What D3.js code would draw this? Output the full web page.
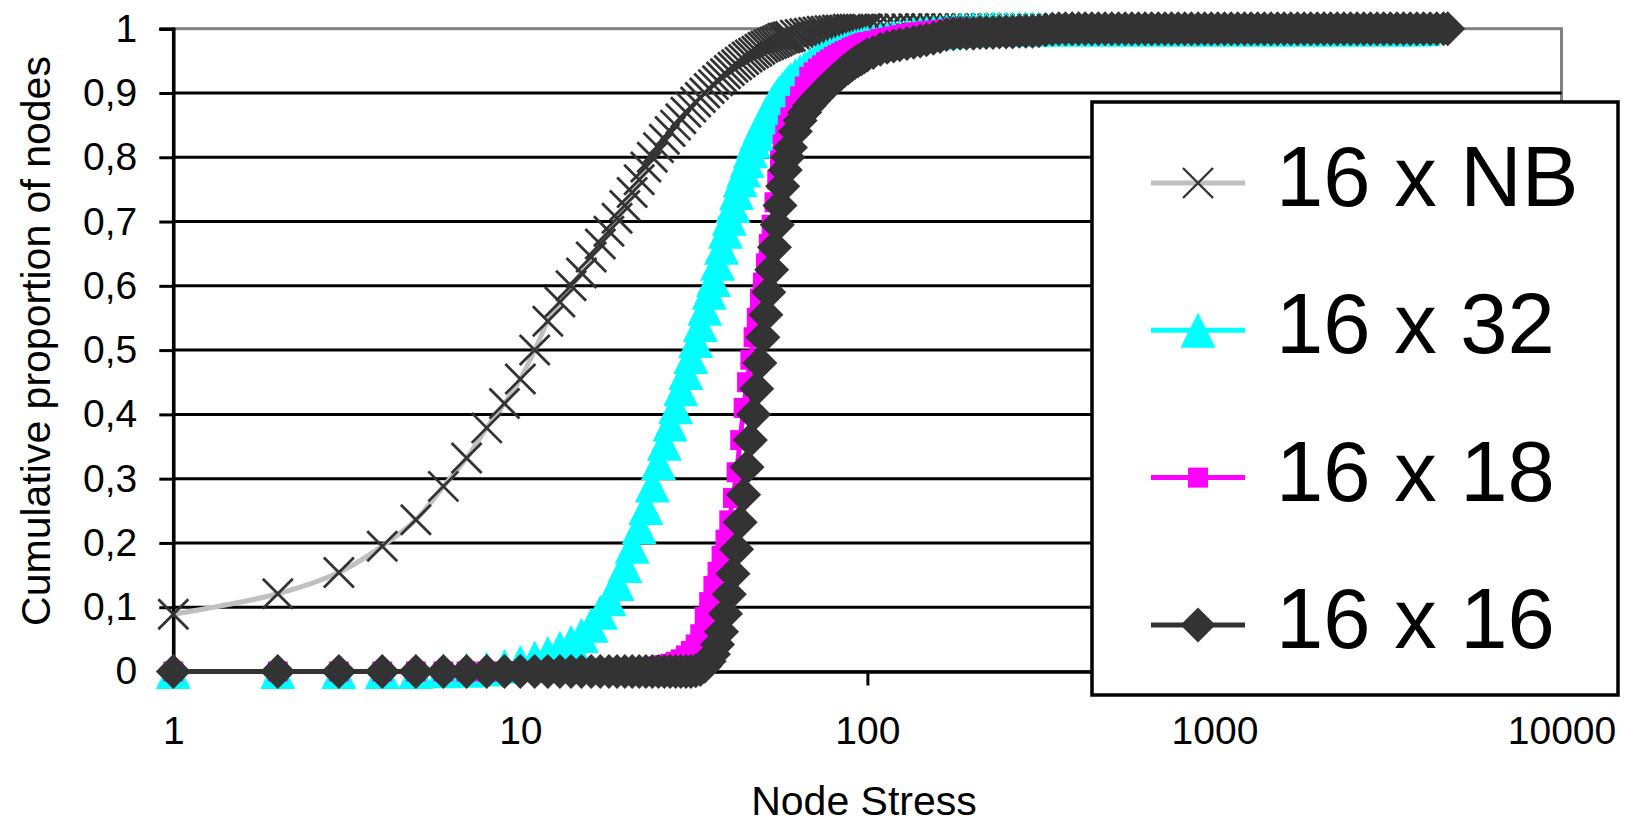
<!DOCTYPE html>
<html>
<head>
<meta charset="utf-8">
<script src="https://cdn.jsdelivr.net/npm/d3@7"></script>
<style>
  body { margin: 0; background: #ffffff; }
  text { font-family: "Liberation Sans", Arial, sans-serif; fill: #000000; }
</style>
</head>
<body>
<div class="chart-container"></div>
<script>
// node stress values shared by all four series (x)
var stress = [
  1, 2, 3, 4, 5, 6, 7, 8, 9, 10,
  11, 12, 13, 14, 15, 16, 17, 18, 19, 20,
  21, 22, 23, 24, 25, 26, 27, 28, 29, 30,
  31, 32, 33, 34, 35, 36, 37, 38, 39, 40,
  41, 42, 43, 44, 45, 46, 47, 48, 49, 50,
  51, 52, 53, 54, 55, 56, 57, 58, 59, 60,
  62, 64, 66, 68, 70, 72, 74, 76, 78, 80,
  82, 84, 86, 88, 90, 92, 94, 96, 98, 100,
  104, 109, 114, 119, 124, 130, 136, 142, 148, 155,
  162, 169, 177, 185, 193, 202, 211, 220, 230, 240,
  251, 262, 274, 286, 299, 312, 326, 341, 356, 372,
  389, 406, 424, 443, 463, 484, 506, 529, 553, 578,
  604, 631, 659, 689, 720, 752, 786, 821, 858, 897,
  937, 979, 1023, 1069, 1117, 1167, 1220, 1275, 1332, 1392,
  1455, 1520, 1588, 1660, 1735, 1813, 1894, 1979, 2068, 2161,
  2259, 2360, 2466, 2577, 2693, 2815, 2941, 3074, 3212, 3356,
  3507, 3665, 3830, 4003, 4183, 4371, 4568, 4700
];

// cumulative proportion of nodes, one value per stress value (null = no node that high)
var nb = [
  0.089, 0.121, 0.154, 0.195, 0.236, 0.288, 0.332, 0.379, 0.417, 0.455,
  0.500, 0.545, 0.575, 0.600, 0.620, 0.645, 0.665, 0.685, 0.705, 0.725,
  0.745, 0.765, 0.785, 0.800, 0.815, 0.828, 0.840, 0.850, 0.860, 0.870,
  0.878, 0.886, 0.893, 0.900, 0.907, 0.913, 0.919, 0.925, 0.930, 0.935,
  0.940, 0.944, 0.948, 0.952, 0.956, 0.959, 0.962, 0.965, 0.968, 0.971,
  0.973, 0.975, 0.977, 0.979, 0.981, 0.983, 0.985, 0.986, 0.987, 0.988,
  0.990, 0.991, 0.992, 0.993, 0.994, 0.995, 0.996, 0.996, 0.997, 0.997,
  0.998, 0.998, 0.998, 0.999, 0.999, 0.999, 0.999, 0.999, 0.999, 0.999,
  0.999, 0.999, 0.999, 1, 1, 1, 1, 1, 1, 1,
  1, 1, 1, 1, 1, 1, 1, 1, 1, 1,
  1, 1, 1, 1, 1, 1, 1, 1, 1, 1,
  1, 1, 1, 1, 1, 1, 1, 1, 1, 1,
  1, 1, 1, 1, 1, 1, 1, 1, 1, 1,
  1, 1, 1, 1, 1, 1, 1, 1, 1, 1,
  1, 1, 1, 1, 1, 1, 1, 1, 1, 1,
  1, 1, 1, 1, 1, 1, 1, 1, 1, 1,
  1, 1, 1, null, null, null, null, null
];

var s32 = [
  0, 0, 0, 0, 0, 0.001, 0.002, 0.004, 0.008, 0.014,
  0.021, 0.028, 0.036, 0.045, 0.056, 0.072, 0.092, 0.113, 0.137, 0.165,
  0.195, 0.225, 0.255, 0.290, 0.325, 0.355, 0.385, 0.412, 0.440, 0.465,
  0.490, 0.515, 0.540, 0.565, 0.590, 0.610, 0.635, 0.660, 0.685, 0.705,
  0.725, 0.745, 0.765, 0.780, 0.795, 0.810, 0.825, 0.837, 0.848, 0.858,
  0.867, 0.875, 0.883, 0.890, 0.896, 0.901, 0.906, 0.911, 0.916, 0.920,
  0.927, 0.933, 0.938, 0.943, 0.947, 0.951, 0.954, 0.957, 0.960, 0.962,
  0.964, 0.966, 0.968, 0.970, 0.971, 0.973, 0.974, 0.975, 0.977, 0.978,
  0.980, 0.983, 0.985, 0.987, 0.988, 0.990, 0.991, 0.992, 0.993, 0.994,
  0.995, 0.996, 0.997, 0.998, 0.998, 0.999, 0.999, 1, 1, 1,
  1, 1, 1, 1, 1, 1, 1, 1, 1, 1,
  1, 1, 1, 1, 1, 1, 1, 1, 1, 1,
  1, 1, 1, 1, 1, 1, 1, 1, 1, 1,
  1, 1, 1, 1, 1, 1, 1, 1, 1, 1,
  1, 1, 1, 1, 1, 1, 1, 1, 1, 1,
  1, 1, 1, 1, 1, 1, 1, 1, 1, 1,
  1, 1, 1, 1, null, null, null, null
];

var s18 = [
  0, 0, 0, 0, 0, 0, 0, 0, 0, 0,
  0, 0, 0, 0, 0, 0, 0, 0, 0, 0,
  0.001, 0.002, 0.003, 0.005, 0.008, 0.010, 0.012, 0.015, 0.019, 0.025,
  0.032, 0.042, 0.058, 0.085, 0.108, 0.133, 0.155, 0.180, 0.205, 0.235,
  0.270, 0.310, 0.360, 0.410, 0.450, 0.485, 0.520, 0.550, 0.580, 0.605,
  0.635, 0.665, 0.695, 0.730, 0.765, 0.795, 0.820, 0.835, 0.850, 0.862,
  0.880, 0.895, 0.910, 0.925, 0.932, 0.938, 0.943, 0.948, 0.952, 0.956,
  0.959, 0.962, 0.965, 0.967, 0.970, 0.972, 0.974, 0.976, 0.978, 0.979,
  0.981, 0.984, 0.986, 0.988, 0.990, 0.992, 0.994, 0.995, 0.996, 0.997,
  0.998, 0.999, 1, 1, 1, 1, 1, 1, 1, 1,
  1, 1, 1, 1, 1, 1, 1, 1, 1, 1,
  1, 1, 1, 1, 1, 1, 1, 1, 1, 1,
  1, 1, 1, 1, 1, 1, 1, 1, 1, 1,
  1, 1, 1, 1, 1, 1, 1, 1, 1, 1,
  1, 1, 1, 1, 1, 1, 1, 1, 1, 1,
  1, 1, 1, 1, 1, 1, 1, 1, 1, 1,
  1, 1, 1, 1, 1, 1, null, null
];

var s16 = [
  0, 0, 0, 0, 0, 0, 0, 0, 0, 0,
  0, 0, 0, 0, 0, 0, 0, 0, 0, 0,
  0, 0, 0, 0, 0, 0, 0, 0, 0, 0,
  0, 0.001, 0.003, 0.008, 0.016, 0.027, 0.042, 0.062, 0.090, 0.120,
  0.152, 0.190, 0.232, 0.275, 0.318, 0.360, 0.400, 0.440, 0.480, 0.520,
  0.555, 0.590, 0.625, 0.660, 0.695, 0.725, 0.755, 0.780, 0.800, 0.815,
  0.840, 0.857, 0.870, 0.880, 0.888, 0.895, 0.902, 0.908, 0.914, 0.920,
  0.925, 0.930, 0.935, 0.939, 0.943, 0.947, 0.950, 0.953, 0.956, 0.959,
  0.963, 0.968, 0.971, 0.973, 0.975, 0.977, 0.979, 0.981, 0.983, 0.985,
  0.988, 0.991, 0.992, 0.993, 0.993, 0.993, 0.994, 0.994, 0.994, 0.995,
  0.995, 0.995, 0.996, 0.996, 0.996, 0.997, 0.998, 0.999, 1, 1,
  1, 1, 1, 1, 1, 1, 1, 1, 1, 1,
  1, 1, 1, 1, 1, 1, 1, 1, 1, 1,
  1, 1, 1, 1, 1, 1, 1, 1, 1, 1,
  1, 1, 1, 1, 1, 1, 1, 1, 1, 1,
  1, 1, 1, 1, 1, 1, 1, 1, 1, 1,
  1, 1, 1, 1, 1, 1, 1, 1
];

var seriesNames = ["16 x NB", "16 x 32", "16 x 18", "16 x 16"];
var yTicks = [0, 0.1, 0.2, 0.3, 0.4, 0.5, 0.6, 0.7, 0.8, 0.9, 1];
var xTicks = [1, 10, 100, 1000, 10000];

// set the dimensions of the graph
var width = 1625;
var height = 825;

var svg = d3.select(".chart-container")
  .append("svg")
    .attr("width", width)
    .attr("height", height);

svg.append("rect")
  .attr("width", width)
  .attr("height", height)
  .style("fill", "#ffffff");

var x = d3.scaleLog()
  .domain([1, 10000])
  .range([173.3, 1561.5]);

var y = d3.scaleLinear()
  .domain([0, 1])
  .range([671.5, 28.7]);

// marker shapes, sized like the excel ones
var crossSym = { draw: function(ctx, size) {
  var r = Math.sqrt(size) / 2;
  ctx.moveTo(-r, -r); ctx.lineTo(r, r);
  ctx.moveTo(-r, r); ctx.lineTo(r, -r);
}};
var triangleSym = { draw: function(ctx, size) {
  var r = Math.sqrt(size) / 2;
  ctx.moveTo(0, -r); ctx.lineTo(r, r); ctx.lineTo(-r, r); ctx.closePath();
}};
var squareSym = { draw: function(ctx, size) {
  var r = Math.sqrt(size) / 2;
  ctx.rect(-r, -r, 2 * r, 2 * r);
}};
var diamondSym = { draw: function(ctx, size) {
  var r = Math.sqrt(size) / 2;
  ctx.moveTo(0, -r); ctx.lineTo(r, 0); ctx.lineTo(0, r); ctx.lineTo(-r, 0); ctx.closePath();
}};

var series = [
  { name: seriesNames[0], values: nb,  line: "#c0c0c0", type: crossSym,    side: 30, fill: "none",    stroke: "#333333", sw: 2.8 },
  { name: seriesNames[1], values: s32, line: "#00ffff", type: triangleSym, side: 35, fill: "#00ffff", stroke: "none",    sw: 0 },
  { name: seriesNames[2], values: s18, line: "#ff00ff", type: squareSym,   side: 20, fill: "#ff00ff", stroke: "none",    sw: 0 },
  { name: seriesNames[3], values: s16, line: "#333333", type: diamondSym,  side: 35, fill: "#333333", stroke: "none",    sw: 0 }
];

// plot area border (grey, shows on top and right)
svg.append("rect")
  .attr("x", x(1))
  .attr("y", y(1))
  .attr("width", x(10000) - x(1))
  .attr("height", y(0) - y(1))
  .style("fill", "none")
  .style("stroke", "#808080")
  .style("stroke-width", 3);

// horizontal gridlines
svg.append("g")
  .selectAll("line")
  .data(yTicks.filter(function(d) { return d > 0 && d < 1; }))
  .enter()
  .append("line")
    .attr("x1", x(1))
    .attr("x2", x(10000))
    .attr("y1", function(d) { return y(d); })
    .attr("y2", function(d) { return y(d); })
    .style("stroke", "#000000")
    .style("stroke-width", 3);

// axes
var yAxis = svg.append("g")
  .attr("transform", "translate(" + x(1) + ",0)")
  .call(d3.axisLeft(y)
    .tickValues(yTicks)
    .tickSize(14)
    .tickPadding(22)
    .tickFormat(function(d) { return String(d).replace(".", ","); }));

var xAxis = svg.append("g")
  .attr("transform", "translate(0," + y(0) + ")")
  .call(d3.axisBottom(x)
    .tickValues(xTicks)
    .tickSize(14)
    .tickPadding(31)
    .tickFormat(function(d) { return String(d); }));

[yAxis, xAxis].forEach(function(a) {
  a.select(".domain").style("stroke", "#000000").style("stroke-width", 3.5);
  a.selectAll(".tick line").style("stroke", "#000000").style("stroke-width", 3);
  a.selectAll(".tick text")
    .style("font-family", "'Liberation Sans', Arial, sans-serif")
    .style("font-size", "39px")
    .style("fill", "#000000");
});

// axis titles
svg.append("text")
  .attr("transform", "translate(50,341) rotate(-90)")
  .attr("text-anchor", "middle")
  .style("font-size", "41px")
  .text("Cumulative proportion of nodes");

svg.append("text")
  .attr("x", 864)
  .attr("y", 815)
  .attr("text-anchor", "middle")
  .style("font-size", "41px")
  .text("Node Stress");

// series: line first, then the markers on top
var line = d3.line()
  .defined(function(d) { return d.y != null; })
  .x(function(d) { return x(d.x); })
  .y(function(d) { return y(d.y); })
  .curve(d3.curveCatmullRom);

series.forEach(function(s) {
  var pts = stress.map(function(v, i) { return { x: v, y: s.values[i] }; });
  var g = svg.append("g").attr("class", "series");

  g.append("path")
    .datum(pts)
    .attr("d", line)
    .style("fill", "none")
    .style("stroke", s.line)
    .style("stroke-width", 5);

  g.selectAll("path.marker")
    .data(pts.filter(function(d) { return d.y != null; }))
    .enter()
    .append("path")
      .attr("class", "marker")
      .attr("transform", function(d) { return "translate(" + x(d.x) + "," + y(d.y) + ")"; })
      .attr("d", d3.symbol().type(s.type).size(s.side * s.side))
      .style("fill", s.fill)
      .style("stroke", s.stroke)
      .style("stroke-width", s.sw);
});

// legend box
var legend = svg.append("g").attr("class", "legend");

legend.append("rect")
  .attr("x", 1092)
  .attr("y", 102)
  .attr("width", 526)
  .attr("height", 593)
  .style("fill", "#ffffff")
  .style("stroke", "#000000")
  .style("stroke-width", 3.5);

var item = legend.selectAll("g.item")
  .data(series)
  .enter()
  .append("g")
    .attr("class", "item")
    .attr("transform", function(d, i) { return "translate(0," + (183 + i * 147.3) + ")"; });

item.append("line")
  .attr("x1", 1151)
  .attr("x2", 1245)
  .style("stroke", function(d) { return d.line; })
  .style("stroke-width", 5);

item.append("path")
  .attr("transform", "translate(1198,0)")
  .attr("d", function(d) { return d3.symbol().type(d.type).size(d.side * d.side)(); })
  .style("fill", function(d) { return d.fill; })
  .style("stroke", function(d) { return d.stroke; })
  .style("stroke-width", function(d) { return d.sw ? 2.4 : 0; });

item.append("text")
  .attr("x", 1276)
  .attr("y", 23)
  .style("font-size", "85px")
  .text(function(d) { return d.name; });
</script>
</body>
</html>
